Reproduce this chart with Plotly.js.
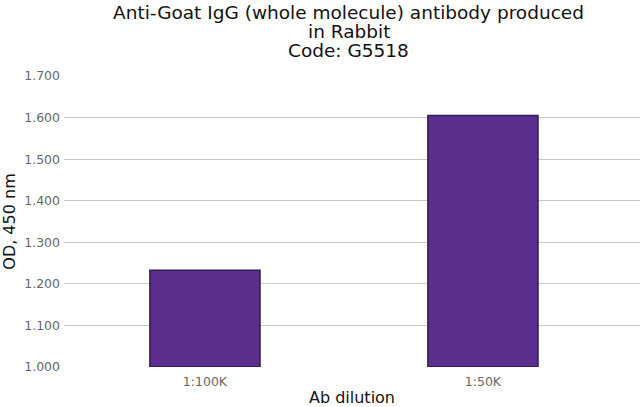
<!DOCTYPE html>
<html>
<head>
<meta charset="utf-8">
<script src="https://cdn.plot.ly/plotly-3.0.1.min.js"></script>
<style>
  html, body { margin: 0; padding: 0; background: #fff; }
  #chart { width: 640px; height: 407px; }
</style>
</head>
<body>
<div id="chart"></div>
<script>
// data
const dilutions = ['1:100K', '1:50K'];
const odValues = [1.233, 1.605];
const axisFloor = 1.0;
const yTicks = [1.0, 1.1, 1.2, 1.3, 1.4, 1.5, 1.6, 1.7];
const yTickText = ['1.000', '1.100', '1.200', '1.300', '1.400', '1.500', '1.600', '1.700'];
const titleLines = ['Anti-Goat IgG (whole molecule) antibody produced', 'in Rabbit', 'Code: G5518'];

// bars start at the axis floor (1.000)
const trace = {
    type: 'bar',
    x: dilutions,
    y: odValues.map(v => v - axisFloor),
    base: axisFloor,
    width: 0.396,
    marker: {
        color: '#5c2f8f',
        line: { color: '#2b1a5c', width: 1.5 }
    },
    hoverinfo: 'x+y'
};

// title lines as annotations: the reference has tighter line spacing than plotly's <br>
const titleY = [1.2199, 1.1546, 1.0893];
const titleAnnotations = titleLines.map((txt, i) => ({
    text: txt,
    xref: 'paper', yref: 'paper',
    x: 0.494, y: titleY[i],
    xanchor: 'center', yanchor: 'middle',
    showarrow: false,
    font: { size: 18.5, color: '#111111' }
}));

const layout = {
    width: 640,
    height: 407,
    margin: { l: 64, r: 0, t: 76, b: 40 },
    paper_bgcolor: '#ffffff',
    plot_bgcolor: '#ffffff',
    font: { family: 'DejaVu Sans, Verdana, sans-serif' },
    showlegend: false,
    annotations: titleAnnotations,
    xaxis: {
        type: 'category',
        range: [-0.507, 1.565],
        showgrid: false,
        zeroline: false,
        showline: false,
        ticks: '',
        ticklabelstandoff: 5,
        tickfont: { size: 12.5, color: '#666666' },
        title: { text: 'Ab dilution', font: { size: 16, color: '#111111' }, standoff: 4 }
    },
    yaxis: {
        range: [1.0, 1.7],
        tickvals: yTicks,
        ticktext: yTickText,
        showgrid: true,
        gridcolor: '#c8c8c8',
        gridwidth: 1,
        zeroline: false,
        showline: false,
        ticks: '',
        ticklabelstandoff: 3,
        tickfont: { size: 12.5, color: '#666666' },
        title: { text: 'OD, 450 nm', font: { size: 16, color: '#111111' }, standoff: 7 }
    }
};

Plotly.newPlot('chart', [trace], layout, { displayModeBar: false, staticPlot: true });
</script>
</body>
</html>
